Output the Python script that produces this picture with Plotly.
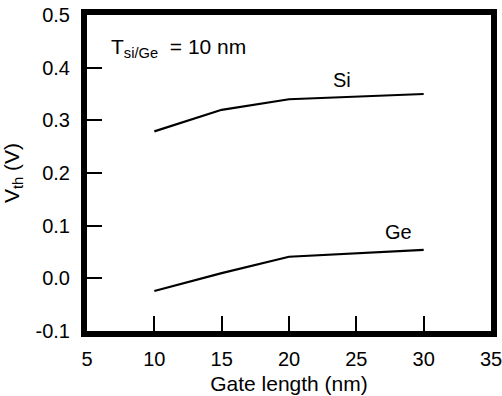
import plotly.graph_objects as go

gate_length = [10, 15, 20, 30]
vth_si = [0.279, 0.320, 0.340, 0.350]
vth_ge = [-0.024, 0.010, 0.041, 0.054]

x_ticks = [5, 10, 15, 20, 25, 30, 35]
x_tick_labels = ["5", "10", "15", "20", "25", "30", "35"]
y_ticks = [-0.1, 0.0, 0.1, 0.2, 0.3, 0.4, 0.5]
y_tick_labels = ["-0.1", "0.0", "0.1", "0.2", "0.3", "0.4", "0.5"]

FONT = "Liberation Sans, Arial, sans-serif"

fig = go.Figure()
fig.add_trace(go.Scatter(x=gate_length, y=vth_si, mode="lines", name="Si",
                         line=dict(color="black", width=2.2), showlegend=False))
fig.add_trace(go.Scatter(x=gate_length, y=vth_ge, mode="lines", name="Ge",
                         line=dict(color="black", width=2.2), showlegend=False))

fig.add_annotation(x=23.9, y=0.377, text="Si", showarrow=False,
                   font=dict(family=FONT, size=20, color="black"))
fig.add_annotation(x=28.1, y=0.088, text="Ge", showarrow=False,
                   font=dict(family=FONT, size=20, color="black"))
fig.add_annotation(x=6.6, y=0.437, text="T<sub>si/Ge</sub>&nbsp; = 10 nm", showarrow=False,
                   xanchor="left", font=dict(family=FONT, size=21, color="black"))

fig.update_xaxes(range=[5, 35], tickvals=x_ticks, ticktext=x_tick_labels,
                 ticks="inside", ticklen=15, tickwidth=2, tickcolor="black",
                 showline=True, linewidth=6, linecolor="black", mirror=True,
                 showgrid=False, zeroline=False, automargin=False,
                 ticklabelstandoff=5, ticklabeloverflow="allow",
                 title=dict(text="Gate length (nm)", font=dict(family=FONT, size=21, color="black"), standoff=9),
                 tickfont=dict(family=FONT, size=20, color="black"))
fig.update_yaxes(range=[-0.1, 0.5], tickvals=y_ticks, ticktext=y_tick_labels,
                 ticks="inside", ticklen=15, tickwidth=2, tickcolor="black",
                 showline=True, linewidth=6, linecolor="black", mirror=True,
                 showgrid=False, zeroline=False, automargin=False,
                 ticklabelstandoff=7, ticklabeloverflow="allow",
                 title=dict(text="V<sub>th</sub> (V)", font=dict(family=FONT, size=21, color="black"), standoff=16),
                 tickfont=dict(family=FONT, size=20, color="black"))

fig.update_layout(width=502, height=396, margin=dict(l=87, r=11, t=15, b=65),
                  plot_bgcolor="white", paper_bgcolor="white")

fig.write_html("out.html", config={"displayModeBar": False},
               post_script="document.body.style.margin='0px';")
